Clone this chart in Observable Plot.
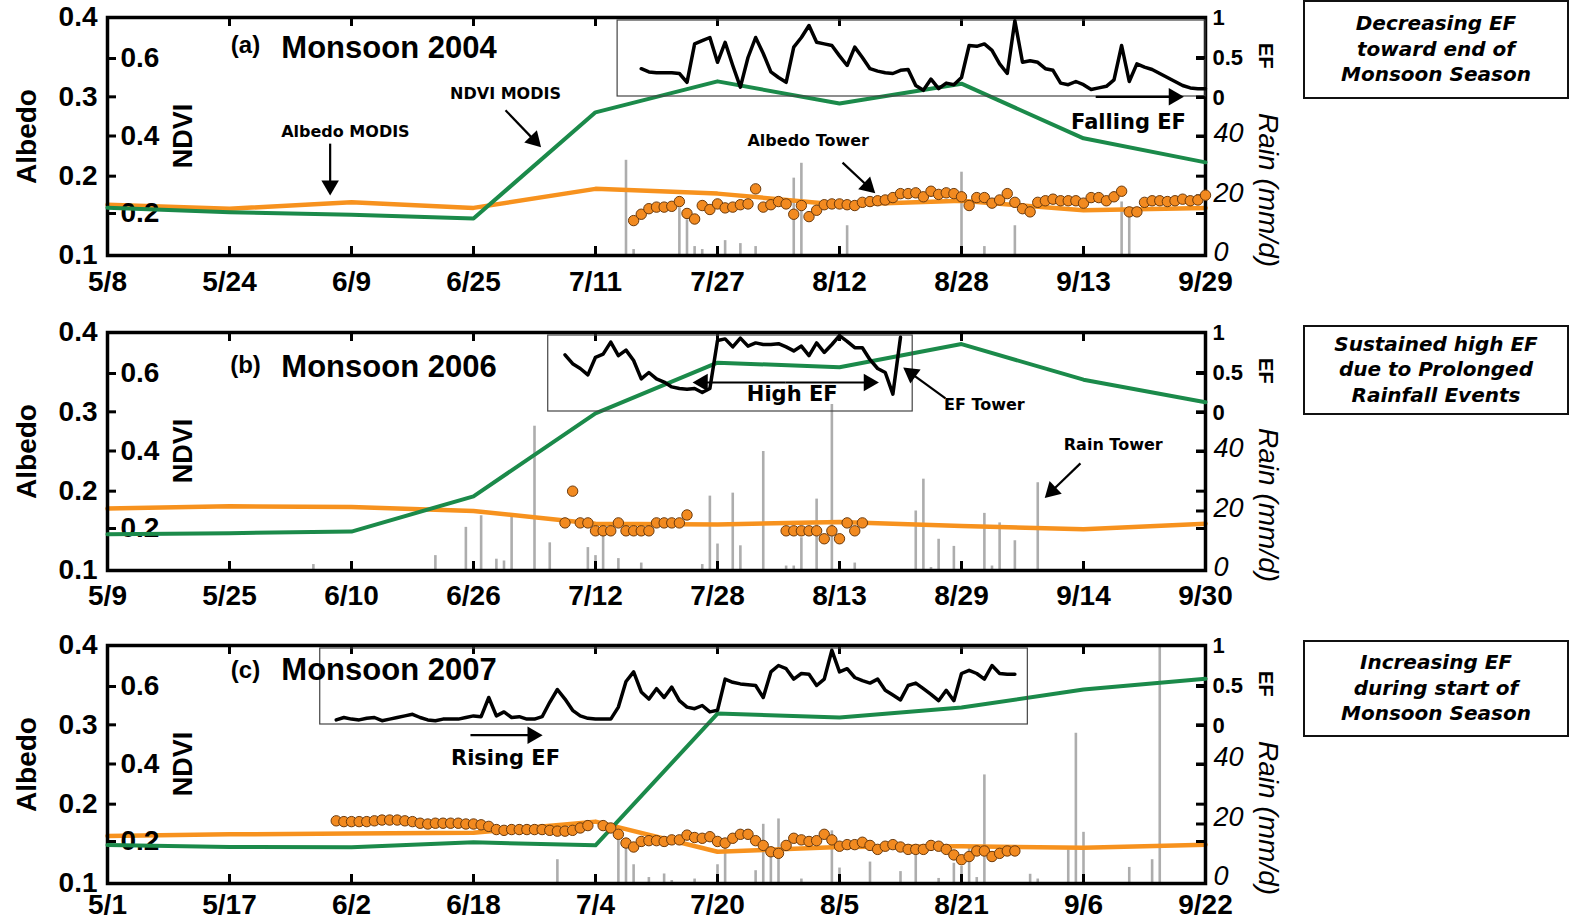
<!DOCTYPE html>
<html><head><meta charset="utf-8">
<script src="https://cdn.jsdelivr.net/npm/d3@7"></script>
<script src="https://cdn.jsdelivr.net/npm/@observablehq/plot@0.6"></script>
<style>
body{margin:0;background:#fff;width:1570px;height:919px;overflow:hidden;font-family:"Liberation Sans",Arial,sans-serif;}
#root{position:relative;width:1570px;height:919px;}
.panel{position:absolute;left:0;width:1300px;height:300px;}
.panel svg{position:absolute;left:0;top:0;background:transparent;overflow:visible;max-width:none;}
.note{position:absolute;left:1303px;width:266px;border:2px solid #111;box-sizing:border-box;display:flex;align-items:center;justify-content:center;text-align:center;font-family:"DejaVu Sans",Verdana,sans-serif;font-weight:bold;font-style:italic;font-size:20px;line-height:25.5px;color:#000;}
</style></head><body><div id="root"></div><script>
// ---------------- data ----------------
const ticksA = ["5/8","5/24","6/9","6/25","7/11","7/27","8/12","8/28","9/13","9/29"];
const ticksB = ["5/9","5/25","6/10","6/26","7/12","7/28","8/13","8/29","9/14","9/30"];
const ticksC = ["5/1","5/17","6/2","6/18","7/4","7/20","8/5","8/21","9/6","9/22"];

// MODIS albedo and NDVI, one value per tick date
const albedoModisA = [.164,.159,.167,.160,.184,.178,.164,.169,.157,.160];
const albedoModisB = [.178,.181,.180,.175,.159,.158,.161,.156,.152,.159];
const albedoModisC = [.160,.162,.163,.164,.178,.140,.146,.147,.145,.149];
const ndviModisA = [.215,.203,.197,.187,.461,.541,.484,.535,.394,.332];
const ndviModisB = [.185,.188,.192,.283,.497,.628,.616,.676,.584,.526];
const ndviModisC = [.191,.186,.185,.198,.190,.530,.520,.546,.592,.620];

// Tower albedo, daily from the start date
const towerStartA = "7/16";
const towerA = [.144,.152,.159,.161,.161,.162,.168,.153,.146,.163,.158,.165,.160,.161,.164,.165,.184,.161,.164,.168,.165,.152,.163,.149,.157,.164,.165,.165,.164,.163,.167,.168,.169,.170,.173,.178,.178,.179,.174,.181,.177,.179,.178,.174,.163,.173,.173,.166,.170,.178,.167,.159,.155,.167,.169,.171,.169,.169,.169,.166,.173,.173,.169,.174,.181,.155,.155,.167,.169,.169,.168,.169,.171,.169,.170,.176];
const towerStartB = "7/8";
const towerB = [.16,.20,.16,.16,.15,.15,.15,.16,.15,.15,.15,.15,.16,.16,.16,.16,.17,null,null,null,null,null,null,null,null,null,null,null,null,.15,.15,.15,.15,.15,.14,.15,.14,.16,.15,.16];
const towerStartC = "5/31";
const towerC = [.179,.178,.178,.178,.178,.179,.180,.180,.180,.179,.178,.176,.175,.176,.176,.176,.176,.175,.175,.174,.172,.168,.167,.168,.168,.168,.168,.168,.167,.166,.166,.167,.170,.173,null,.173,.170,.162,.151,.146,.153,.154,.154,.153,.155,.155,.161,.158,.157,.159,.153,.151,.157,.162,.162,.154,.148,.140,.138,.148,.157,.155,.153,.154,.162,.155,.147,.149,.149,.152,.148,.143,.147,.149,.146,.143,.143,.143,.148,.147,.143,.136,.130,.134,.141,.141,.134,.138,.141,.141];

// Evaporative fraction (EF tower), daily from the start date
const efStartA = "7/17";
const efA = [.36,.32,.31,.31,.31,.30,.19,.67,.71,.75,.44,.69,.40,.13,.50,.75,.55,.32,.25,.19,.63,.75,.90,.69,.67,.65,.52,.40,.63,.50,.36,.33,.31,.30,.34,.35,.15,.09,.23,.11,.18,.16,.25,.65,.64,.67,.59,.42,.30,.96,.44,.46,.44,.36,.34,.18,.16,.20,.16,.10,.12,.14,.22,.65,.20,.42,.38,.35,.30,.25,.20,.15,.12,.11,.11];
const efStartB = "7/8";
const efB = [.72,.61,.55,.47,.69,.73,.88,.71,.78,.65,.42,.50,.42,.38,.32,.30,.29,.30,.25,.30,.90,.92,.82,.93,.83,.87,.85,.85,.86,.82,.77,.83,.71,.87,.75,.85,.96,.89,.81,.81,.66,.55,.50,.23,.94];
const efStartC = "5/31";
const efC = [.07,.10,.08,.07,.09,.10,.06,.08,.10,.12,.14,.10,.07,.06,.08,.08,.08,.10,.12,.11,.35,.12,.17,.10,.11,.08,.08,.11,.29,.45,.33,.19,.12,.09,.08,.08,.08,.23,.55,.67,.42,.33,.46,.35,.48,.31,.23,.21,.25,.17,.19,.58,.54,.52,.51,.50,.35,.67,.75,.71,.58,.65,.64,.50,.58,.94,.67,.71,.60,.56,.53,.58,.44,.38,.32,.50,.53,.46,.39,.31,.44,.31,.65,.69,.65,.58,.75,.65,.64,.64];

// Rain tower (mm/d)
const rainDatesA = ["7/15","7/16","7/22","7/23","7/24","7/25","7/28","7/30","8/1","8/6","8/7","8/13","8/28","8/31","9/4","9/18","9/19"];
const rainA = [32,2,16,12,3,2,5,4,3,26,31,10,28,3,10,18,16];
const rainDatesB = ["6/5","6/21","6/25","6/27","6/29","6/30","7/1","7/4","7/6","7/11","7/12","7/13","7/15","7/18","7/26","7/27","7/28","7/30","7/31","8/3","8/6","8/7","8/8","8/10","8/12","8/15","8/23","8/24","8/25","8/26","8/28","9/1","9/2","9/3","9/5","9/8"];
const rainB = [2,5,14.5,18.4,3.8,3.2,19,48.5,9.3,7.7,5,11.8,4,2.5,2,25,8.9,26,8.3,40,1.5,1.5,11,24,55.8,2.5,20,30.7,1,10.5,8.1,19.2,1.5,16,10,29.5];
const rainDatesC = ["6/29","7/7","7/8","7/9","7/11","7/13","7/14","7/17","7/20","7/21","7/25","7/26","7/27","7/28","7/31","8/4","8/5","8/9","8/13","8/15","8/18","8/20","8/21","8/22","8/23","8/24","8/30","8/31","9/4","9/5","9/6","9/12","9/15","9/16"];
const rainC = [8,18,14,6.3,2,3.2,1,1.5,6.3,11.9,4.3,19.9,9,21.7,1.5,17.7,5.2,7.2,4,11,1.7,6.8,5.7,12.4,2,36.5,3.1,1.5,11.3,50.5,17.2,5.4,8,80];

const panelTitles = ["Monsoon 2004","Monsoon 2006","Monsoon 2007"];
const panelTags = ["(a)","(b)","(c)"];
const sideNotes = [["Decreasing EF","toward end of","Monsoon Season"],["Sustained high EF","due to Prolonged","Rainfall Events"],["Increasing EF","during start of","Monsoon Season"]];

// ---------------- layout ----------------
const W = 1300, H = 300, ML = 107, MR = 95, MT = 17, MB = 45;
const IW = W - ML - MR, IH = H - MT - MB;
const PX_DAY = IW / 144, PX_ALB = IH / 0.3;
const SANS = "'Liberation Sans', Arial, Helvetica, sans-serif";
const VERD = "'DejaVu Sans', Verdana, sans-serif";
const NDVI_DOMAIN = [0.0916, 0.7058];
const EF_DOMAIN = [-1.975, 1];

function md(year, s) { const [m, d] = s.split("/").map(Number); return new Date(Date.UTC(year, m - 1, d)); }
function shift(date, days) { return new Date(date.getTime() + days * 864e5); }
function series(year, start, values) {
  const s = md(year, start);
  return values.map((v, i) => ({date: shift(s, i), value: v})).filter(d => d.value != null);
}
// arrow geometry: shaft stops short of the tip, filled triangle head at the tip
function arrowParts(arrows) {
  return arrows.map(a => {
    const px = (a.x2 - a.x1) * PX_DAY, py = -(a.y2 - a.y1) * PX_ALB;
    const L = Math.hypot(px, py), ux = px / L, uy = py / L;
    return {
      x1: a.x1, y1: a.y1,
      sx: a.x2 - ux * 8 / PX_DAY, sy: a.y2 + uy * 8 / PX_ALB,
      hx: a.x2 - ux * 5 / PX_DAY, hy: a.y2 + uy * 5 / PX_ALB,
      angle: Math.atan2(ux, -uy) * 180 / Math.PI
    };
  });
}

const panels = [
  {top: 0, year: 2004, ticks: ticksA, modis: albedoModisA, ndvi: ndviModisA, towerStart: towerStartA, tower: towerA,
   efStart: efStartA, ef: efA, rainDates: rainDatesA, rain: rainA, box: [66.9, 144], idx: 0, xPad: 16, rainDy: -3,
   notes: [
     {kind: "small", x: 31.2, y: .256, text: "Albedo MODIS"},
     {kind: "small", x: 52.2, y: .304, text: "NDVI MODIS"},
     {kind: "small", x: 91.9, y: .244, text: "Albedo Tower"},
     {kind: "big", x: 133.9, y: .268, text: "Falling EF"}],
   arrows: [
     {x1: 29.2, y1: .241, x2: 29.2, y2: .182},
     {x1: 52.2, y1: .283, x2: 56.4, y2: .241},
     {x1: 96.4, y1: .217, x2: 100.2, y2: .183},
     {x1: 129.6, y1: .300, x2: 140.5, y2: .300}]},
  {top: 315, year: 2006, ticks: ticksB, modis: albedoModisB, ndvi: ndviModisB, towerStart: towerStartB, tower: towerB,
   efStart: efStartB, ef: efB, rainDates: rainDatesB, rain: rainB, box: [57.8, 105.6], idx: 1, xPad: 15, rainDy: -3,
   notes: [
     {kind: "big", x: 89.8, y: .322, text: "High EF"},
     {kind: "small", x: 115, y: .309, text: "EF Tower"},
     {kind: "small", x: 131.9, y: .258, text: "Rain Tower"}],
   arrows: [
     {x1: 88.9, y1: .337, x2: 77.4, y2: .337},
     {x1: 88.9, y1: .337, x2: 100.5, y2: .337},
     {x1: 109.9, y1: .317, x2: 104.9, y2: .352},
     {x1: 127.6, y1: .235, x2: 123.4, y2: .196}]},
  {top: 628, year: 2007, ticks: ticksC, modis: albedoModisC, ndvi: ndviModisC, towerStart: towerStartC, tower: towerC,
   efStart: efStartC, ef: efC, rainDates: rainDatesC, rain: rainC, box: [27.9, 120.7], idx: 2, xPad: 11, rainDy: -7,
   notes: [
     {kind: "big", x: 52.2, y: .258, text: "Rising EF"}],
   arrows: [
     {x1: 47.6, y1: .287, x2: 56.4, y2: .287}]}
];

const root = document.getElementById("root");

function buildPanel(p) {
  const div = document.createElement("div");
  div.className = "panel";
  div.style.top = p.top + "px";
  root.appendChild(div);

  const tickDates = p.ticks.map(s => md(p.year, s));
  const start = tickDates[0], end = tickDates[tickDates.length - 1];
  const xd = [start, end];
  const label = new Map(tickDates.map((d, i) => [+d, p.ticks[i]]));
  const modis = tickDates.map((d, i) => ({date: d, value: p.modis[i]}));
  const ndvi = tickDates.map((d, i) => ({date: d, value: p.ndvi[i]}));
  const tower = series(p.year, p.towerStart, p.tower);
  const ef = series(p.year, p.efStart, p.ef);
  const rain = p.rainDates.map((s, i) => ({date: md(p.year, s), value: p.rain[i]}));

  const common = {width: W, height: H, marginLeft: ML, marginRight: MR, marginTop: MT, marginBottom: MB,
    style: {background: "transparent", overflow: "visible", fontFamily: SANS}};
  const leftTick = (vals, len = 9) => Plot.tickY(vals, {y: d => d, insetRight: IW - len, stroke: "#000", strokeWidth: 3});
  const rightTick = (vals, len = 9) => Plot.tickY(vals, {y: d => d, insetLeft: IW - len, stroke: "#000", strokeWidth: 3});

  const layers = [];
  // rain bars + rain axis
  layers.push(Plot.plot({...common, x: {type: "utc", domain: xd, axis: null}, y: {domain: [0, 80]},
    marks: [
      Plot.ruleX(rain, {x: "date", y1: 0, y2: "value", stroke: "#adadad", strokeWidth: 2.6}),
      Plot.axisY([0, 20, 40], {anchor: "right", label: null, tickSize: 0, tickPadding: 8, dy: p.rainDy, fontSize: 27, fontStyle: "italic", fontWeight: "normal"}),
      rightTick([20, 40]),
      Plot.text(["Rain (mm/d)"], {text: d => d, y: 22, frameAnchor: "right", dx: 62, rotate: 90, textAnchor: "middle", fontSize: 28, fontStyle: "italic", fontWeight: "normal"})
    ]}));
  // frame, axes, MODIS albedo line
  layers.push(Plot.plot({...common, x: {type: "utc", domain: xd}, y: {domain: [0.1, 0.4]},
    marks: [
      Plot.line(modis, {x: "date", y: "value", stroke: "#f7921e", strokeWidth: 4.5}),
      Plot.frame({stroke: "#000", strokeWidth: 3.5}),
      Plot.axisX(tickDates, {label: null, tickSize: 0, tickPadding: p.xPad, tickFormat: d => label.get(+d), fontSize: 28, fontWeight: "bold"}),
      Plot.axisY([.1, .2, .3, .4], {anchor: "left", label: null, tickSize: 0, tickPadding: 10, tickFormat: d => d.toFixed(1), fontSize: 28, fontWeight: "bold"}),
      Plot.tickX(tickDates, {x: d => d, insetTop: IH - 9, stroke: "#000", strokeWidth: 3}),
      Plot.tickX(tickDates, {x: d => d, insetBottom: IH - 9, stroke: "#000", strokeWidth: 3}),
      leftTick([.2, .3]), rightTick([.2, .3]),
      Plot.text(["Albedo"], {text: d => d, y: .25, frameAnchor: "left", dx: -80, rotate: -90, textAnchor: "middle", fontSize: 28, fontWeight: "bold"})
    ]}));
  // NDVI
  layers.push(Plot.plot({...common, x: {type: "utc", domain: xd, axis: null}, y: {domain: NDVI_DOMAIN, axis: null},
    marks: [
      leftTick([.2, .4, .6]), rightTick([.2, .4, .6]),
      Plot.text([.2, .4, .6], {y: d => d, text: d => d.toFixed(1), frameAnchor: "left", dx: 13, textAnchor: "start", fontSize: 28, fontWeight: "bold"}),
      Plot.text(["NDVI"], {text: d => d, y: .4, frameAnchor: "left", dx: 76, rotate: -90, textAnchor: "middle", fontSize: 27, fontWeight: "bold"}),
      Plot.line(ndvi, {x: "date", y: "value", stroke: "#1b8a4a", strokeWidth: 4})
    ]}));
  // tower albedo dots
  layers.push(Plot.plot({...common, x: {type: "utc", domain: xd, axis: null}, y: {domain: [0.1, 0.4], axis: null},
    marks: [
      Plot.dot(tower, {x: "date", y: "value", r: 5.2, fill: "#f28a20", stroke: "#6b3a0c", strokeWidth: 1})
    ]}));
  // EF inset
  layers.push(Plot.plot({...common, x: {type: "utc", domain: xd, axis: null}, y: {domain: EF_DOMAIN},
    marks: [
      Plot.rect([p.box], {x1: b => shift(start, b[0]), x2: b => shift(start, b[1]), y1: .0125, y2: .9625, fill: "none", stroke: "#444", strokeWidth: 1.2}),
      Plot.line(ef, {x: "date", y: "value", stroke: "#000", strokeWidth: 3.5, strokeLinejoin: "round"}),
      Plot.axisY([0, .5, 1], {anchor: "right", label: null, tickSize: 0, tickPadding: 7, tickFormat: d => String(d), fontSize: 22, fontWeight: "bold"}),
      rightTick([0, .5, 1]),
      Plot.text(["EF"], {text: d => d, y: .52, frameAnchor: "right", dx: 60, rotate: 90, textAnchor: "middle", fontSize: 20, fontWeight: "bold"})
    ]}));
  // annotations
  const tagNote = [{x: 18.1, y: [.365, .359, .369][p.idx], text: panelTags[p.idx]}];
  const titleNote = [{x: 22.8, y: [.362, .356, .369][p.idx], text: panelTitles[p.idx]}];
  const parts = arrowParts(p.arrows);
  layers.push(Plot.plot({...common, x: {domain: [0, 144], axis: null}, y: {domain: [0.1, 0.4], axis: null},
    marks: [
      Plot.link(parts, {x1: "x1", y1: "y1", x2: "sx", y2: "sy", stroke: "#000", strokeWidth: 2.2}),
      Plot.dot(parts, {x: "hx", y: "hy", symbol: "triangle", r: 6.5, rotate: "angle", fill: "#000", stroke: "none"}),
      Plot.text(tagNote, {x: "x", y: "y", text: "text", fontSize: 24, fontWeight: "bold", fontFamily: SANS}),
      Plot.text(titleNote, {x: "x", y: "y", text: "text", fontSize: 31, fontWeight: "bold", fontFamily: SANS, textAnchor: "start"}),
      Plot.text(p.notes.filter(n => n.kind === "small"), {x: "x", y: "y", text: "text", fontSize: 16, fontWeight: "bold", fontFamily: VERD}),
      Plot.text(p.notes.filter(n => n.kind === "big"), {x: "x", y: "y", text: "text", fontSize: 21, fontWeight: "bold", fontFamily: VERD})
    ]}));

  for (const l of layers) div.appendChild(l);
}

panels.forEach(buildPanel);

// side notes
const noteBoxes = [{top: 0, h: 99}, {top: 325, h: 90}, {top: 640, h: 97}];
sideNotes.forEach((lines, i) => {
  const d = document.createElement("div");
  d.className = "note";
  d.style.top = noteBoxes[i].top + "px";
  d.style.height = noteBoxes[i].h + "px";
  d.innerHTML = lines.join("<br>");
  root.appendChild(d);
});
</script></body></html>
